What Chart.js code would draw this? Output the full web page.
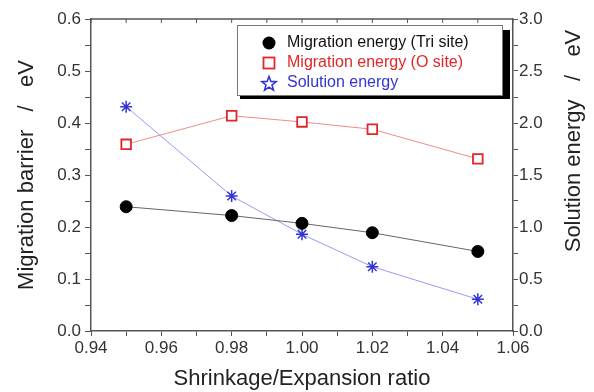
<!DOCTYPE html>
<html>
<head>
<meta charset="utf-8">
<title>Migration barrier / Solution energy</title>
<script src="https://cdn.jsdelivr.net/npm/chart.js@4.4.1/dist/chart.umd.min.js"></script>
<style>
    html, body { margin: 0; padding: 0; background: #ffffff; }
    #wrap { width: 594px; height: 392px; }
</style>
</head>
<body>
<div id="wrap"><canvas id="graphique-migration"></canvas></div>
<script>
// data
const ratio = [0.95, 0.98, 1.00, 1.02, 1.05];
const triSite = [0.239, 0.222, 0.207, 0.189, 0.153];
const oSite = [0.359, 0.414, 0.402, 0.388, 0.331];
const solution = [2.157, 1.298, 0.930, 0.618, 0.305];

const xTicks = { min: 0.94, max: 1.06, step: 0.01 };
const leftTicks = { min: 0, max: 0.6, step: 0.05 };
const rightTicks = { min: 0, max: 3.0, step: 0.25 };

const legendLabels = ["Migration energy (Tri site)", "Migration energy (O site)", "Solution energy"];

const fontName = "'Liberation Sans', Arial, sans-serif";
const axisColor = '#555555';

function points(values) {
    return ratio.map((r, i) => ({ x: r, y: values[i] }));
}

// top border with inward ticks, right axis title, boxed legend
const framePlugin = {
    id: 'framePlugin',
    afterDraw(chart) {
        const ctx = chart.ctx;
        const area = chart.chartArea;
        const xScale = chart.scales.x;

        ctx.save();
        ctx.strokeStyle = axisColor;
        ctx.lineWidth = 1.5;
        ctx.beginPath();
        ctx.moveTo(area.left, area.top);
        ctx.lineTo(area.right, area.top);
        ctx.stroke();
        ctx.lineWidth = 1;
        xScale.ticks.forEach(t => {
            const px = xScale.getPixelForValue(t.value);
            ctx.beginPath();
            ctx.moveTo(px, area.top);
            ctx.lineTo(px, area.top + 4);
            ctx.stroke();
        });

        // right title reads bottom to top like the left one
        ctx.fillStyle = '#222222';
        ctx.font = "22px " + fontName;
        ctx.textAlign = 'center';
        ctx.textBaseline = 'middle';
        ctx.translate(574, 141);
        ctx.rotate(-Math.PI / 2);
        ctx.fillText("Solution energy   /   eV", 0, 0);
        ctx.restore();

        // legend
        ctx.save();
        ctx.fillStyle = '#000000';
        ctx.fillRect(240, 30, 270, 69);
        ctx.fillStyle = '#ffffff';
        ctx.fillRect(237, 25, 266, 71);
        ctx.strokeStyle = '#777777';
        ctx.lineWidth = 1;
        ctx.strokeRect(237.5, 25.5, 265, 70);

        const colors = ['#111111', '#e0262a', '#3434d4'];
        ctx.font = "16px " + fontName;
        ctx.textAlign = 'left';
        ctx.textBaseline = 'middle';
        legendLabels.forEach((label, i) => {
            const y = 43 + i * 20;
            const mx = 269;
            if (i === 0) {
                ctx.fillStyle = '#000000';
                ctx.beginPath();
                ctx.arc(mx, y, 6.5, 0, Math.PI * 2);
                ctx.fill();
            } else if (i === 1) {
                ctx.strokeStyle = '#e0262a';
                ctx.lineWidth = 1.8;
                ctx.strokeRect(mx - 5.5, y - 5.5, 11, 11);
            } else {
                ctx.strokeStyle = '#3434d4';
                ctx.lineWidth = 1.6;
                ctx.beginPath();
                for (let k = 0; k < 10; k++) {
                    const r = k % 2 === 0 ? 7.5 : 3.2;
                    const a = -Math.PI / 2 + k * Math.PI / 5;
                    const px = mx + r * Math.cos(a);
                    const py = y + 1 + r * Math.sin(a);
                    if (k === 0) ctx.moveTo(px, py); else ctx.lineTo(px, py);
                }
                ctx.closePath();
                ctx.stroke();
            }
            ctx.fillStyle = colors[i];
            ctx.fillText(label, 287, y);
        });
        ctx.restore();
    }
};

const ctx = document.getElementById("graphique-migration").getContext("2d");

window.myChartMigration = new Chart(ctx, {
    type: 'line',
    data: {
        datasets: [{
            label: legendLabels[0],
            data: points(triSite),
            yAxisID: 'y',
            borderColor: '#666666',
            borderWidth: 1,
            pointStyle: 'circle',
            pointRadius: 6,
            pointBackgroundColor: '#000000',
            pointBorderColor: '#000000',
            pointBorderWidth: 1,
        }, {
            label: legendLabels[1],
            data: points(oSite),
            yAxisID: 'y',
            borderColor: '#f08a8a',
            borderWidth: 1,
            pointStyle: 'rect',
            pointRadius: 6.8,
            pointBackgroundColor: '#ffffff',
            pointBorderColor: '#e0262a',
            pointBorderWidth: 1.8,
        }, {
            label: legendLabels[2],
            data: points(solution),
            yAxisID: 'y2',
            borderColor: '#9a9af0',
            borderWidth: 1,
            pointStyle: 'star',
            pointRadius: 6,
            pointBackgroundColor: '#3434d4',
            pointBorderColor: '#3434d4',
            pointBorderWidth: 1.5,
        }]
    },
    options: {
        responsive: true,
        maintainAspectRatio: false,
        animation: false,
        layout: {
            padding: { top: 19, left: 0, right: 0, bottom: 0 }
        },
        plugins: {
            legend: { display: false },
            tooltip: { enabled: false },
        },
        scales: {
            x: {
                type: 'linear',
                position: 'bottom',
                min: xTicks.min,
                max: xTicks.max,
                afterFit(scale) { scale.height = 61; },
                border: { color: axisColor, width: 1.5 },
                grid: { drawOnChartArea: false, tickLength: 5, color: axisColor },
                ticks: {
                    stepSize: xTicks.step,
                    autoSkip: false,
                    maxRotation: 0,
                    padding: 2,
                    color: '#333333',
                    font: { family: fontName, size: 17 },
                    callback: v => Math.round(v * 100) % 2 === 0 ? v.toFixed(2) : '',
                },
                title: {
                    display: true,
                    text: 'Shrinkage/Expansion ratio',
                    color: '#222222',
                    font: { family: fontName, size: 22 },
                    padding: { top: 0, bottom: 0 },
                },
            },
            y: {
                type: 'linear',
                position: 'left',
                min: leftTicks.min,
                max: leftTicks.max,
                afterFit(scale) { scale.width = 91; },
                border: { color: axisColor, width: 1.5 },
                grid: { drawOnChartArea: false, tickLength: 6, color: axisColor },
                ticks: {
                    stepSize: leftTicks.step,
                    autoSkip: false,
                    padding: 4,
                    color: '#333333',
                    font: { family: fontName, size: 17 },
                    callback: v => Math.round(v * 100) % 10 === 0 ? v.toFixed(1) : '',
                },
                title: {
                    display: true,
                    text: 'Migration barrier   /   eV',
                    color: '#222222',
                    font: { family: fontName, size: 22 },
                    padding: { top: 14, bottom: 0 },
                },
            },
            y2: {
                type: 'linear',
                position: 'right',
                min: rightTicks.min,
                max: rightTicks.max,
                afterFit(scale) { scale.width = 81; },
                border: { color: axisColor, width: 1.5 },
                grid: { drawOnChartArea: false, tickLength: 5, color: axisColor },
                ticks: {
                    stepSize: rightTicks.step,
                    autoSkip: false,
                    padding: 1,
                    color: '#333333',
                    font: { family: fontName, size: 17 },
                    callback: v => Math.round(v * 100) % 50 === 0 ? v.toFixed(1) : '',
                },
            },
        },
    },
    plugins: [framePlugin]
});
</script>
</body>
</html>
